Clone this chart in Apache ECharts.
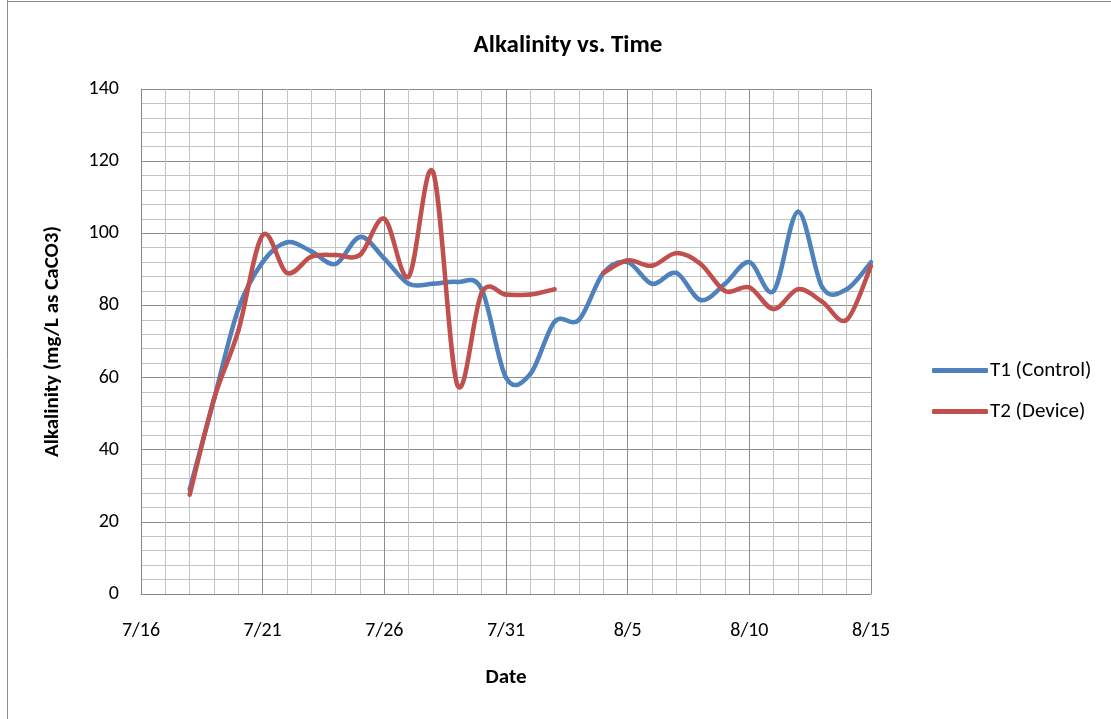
<!DOCTYPE html>
<html><head><meta charset="utf-8">
<script src="https://cdn.jsdelivr.net/npm/echarts@6/dist/echarts.min.js"></script>
<style>html,body{margin:0;padding:0;background:#fff}#c{width:1111px;height:719px}</style>
</head><body><div id="c"></div>
<script>
var dates = ['7/18','7/19','7/20','7/21','7/22','7/23','7/24','7/25','7/26','7/27','7/28','7/29','7/30','7/31','8/1','8/2','8/3','8/4','8/5','8/6','8/7','8/8','8/9','8/10','8/11','8/12','8/13','8/14','8/15'];
var t1 = [29,54,79,92,97.5,95,91.5,99,93,86,86,86.5,84.5,60,61,75.5,76,89,92,86,89,81.5,86,92,84,106,85,84.5,92];
var t2 = [27.5,54,73,99.5,89,93.5,94,94,104,88,117,58,83.5,83,83,84.5,null,89,92.5,91,94.5,91.5,84,85,79,84.5,81,76,91];
var xStart = '7/16', xEnd = '8/15';
var seriesNames = ['T1 (Control)','T2 (Device)'];
var colors = ['#4F81BD','#C0504D'];

function dayOf(s){var p=s.split('/');return Math.round((Date.UTC(2014,+p[0]-1,+p[1])-Date.UTC(2014,6,16))/86400000);}
function labelOf(d){var t=new Date(Date.UTC(2014,6,16)+d*86400000);return (t.getUTCMonth()+1)+'/'+t.getUTCDate();}
// one item per segment: [x0, y0, x1, y1, prevX, prevY, nextX, nextY]
function segments(vals){
  var out=[];
  for(var i=0;i<vals.length-1;i++){
    if(vals[i]==null||vals[i+1]==null) continue;
    var pi=(i>0&&vals[i-1]!=null)?i-1:i;
    var ni=(i+2<vals.length&&vals[i+2]!=null)?i+2:i+1;
    out.push([dayOf(dates[i]),vals[i],dayOf(dates[i+1]),vals[i+1],dayOf(dates[pi]),vals[pi],dayOf(dates[ni]),vals[ni]]);
  }
  return out;
}
function makeRender(color){
  return function(params, api){
    var a=api.coord([api.value(0),api.value(1)]);
    var b=api.coord([api.value(2),api.value(3)]);
    var p=api.coord([api.value(4),api.value(5)]);
    var n=api.coord([api.value(6),api.value(7)]);
    var k=1/6;
    return {type:'bezierCurve',silent:true,
      shape:{x1:a[0],y1:a[1],x2:b[0],y2:b[1],
        cpx1:a[0]+(b[0]-p[0])*k,cpy1:a[1]+(b[1]-p[1])*k,
        cpx2:b[0]-(n[0]-a[0])*k,cpy2:b[1]-(n[1]-a[1])*k},
      style:{fill:null,stroke:color,lineWidth:4.5,lineCap:'round',lineJoin:'round'}};
  };
}

var font = 'Carlito, "Open Sans", "Noto Sans", sans-serif';
var chart = echarts.init(document.getElementById('c'));
chart.setOption({
  animation:false,
  title:{text:'Alkalinity vs. Time',left:563,top:28,textAlign:'center',
    textStyle:{fontFamily:font,fontSize:25,fontWeight:'bold',color:'#000'}},
  grid:{left:141,right:240,top:89,bottom:125},
  legend:{orient:'vertical',left:927,top:355,itemGap:20,itemWidth:56,itemHeight:5,icon:'roundRect',
    textStyle:{fontFamily:font,fontSize:21,color:'#000',padding:[0,0,0,-3]},
    data:[{name:seriesNames[0],itemStyle:{color:colors[0]}},{name:seriesNames[1],itemStyle:{color:colors[1]}}]},
  xAxis:{type:'value',min:dayOf(xStart),max:dayOf(xEnd),interval:5,
    name:'Date',nameLocation:'middle',nameGap:73,
    nameTextStyle:{fontFamily:font,fontSize:21,fontWeight:'bold',color:'#000'},
    axisLine:{show:true,lineStyle:{color:'#868686',width:1}},axisTick:{show:false},
    axisLabel:{formatter:function(v){return labelOf(v);},fontFamily:font,fontSize:20,color:'#000',margin:27},
    splitLine:{show:true,lineStyle:{color:'#8c8c8c',width:1}},
    minorTick:{show:false,splitNumber:5},
    minorSplitLine:{show:true,lineStyle:{color:'#c4c4c4',width:1}}},
  yAxis:{type:'value',min:0,max:140,interval:20,
    name:'Alkalinity (mg/L as CaCO3)',nameLocation:'middle',nameGap:78,nameRotate:90,
    nameTextStyle:{fontFamily:font,fontSize:21,fontWeight:'bold',color:'#000'},
    axisLine:{show:true,lineStyle:{color:'#868686',width:1}},axisTick:{show:false},
    axisLabel:{fontFamily:font,fontSize:20,color:'#000',margin:22},
    splitLine:{show:true,lineStyle:{color:'#8c8c8c',width:1}},
    minorTick:{show:false,splitNumber:5},
    minorSplitLine:{show:true,lineStyle:{color:'#c4c4c4',width:1}}},
  graphic:[
    {type:'line',shape:{x1:7.5,y1:0,x2:7.5,y2:719},style:{stroke:'#8c8c8c',lineWidth:1},silent:true},
    {type:'line',shape:{x1:7,y1:1.5,x2:1111,y2:1.5},style:{stroke:'#8c8c8c',lineWidth:1},silent:true}],
  series:[
    {name:seriesNames[0],type:'custom',coordinateSystem:'cartesian2d',data:segments(t1),
      renderItem:makeRender(colors[0]),itemStyle:{color:colors[0]},encode:{x:[0,2],y:[1,3]}},
    {name:seriesNames[1],type:'custom',coordinateSystem:'cartesian2d',data:segments(t2),
      renderItem:makeRender(colors[1]),itemStyle:{color:colors[1]},encode:{x:[0,2],y:[1,3]}}
  ]
});
</script></body></html>
